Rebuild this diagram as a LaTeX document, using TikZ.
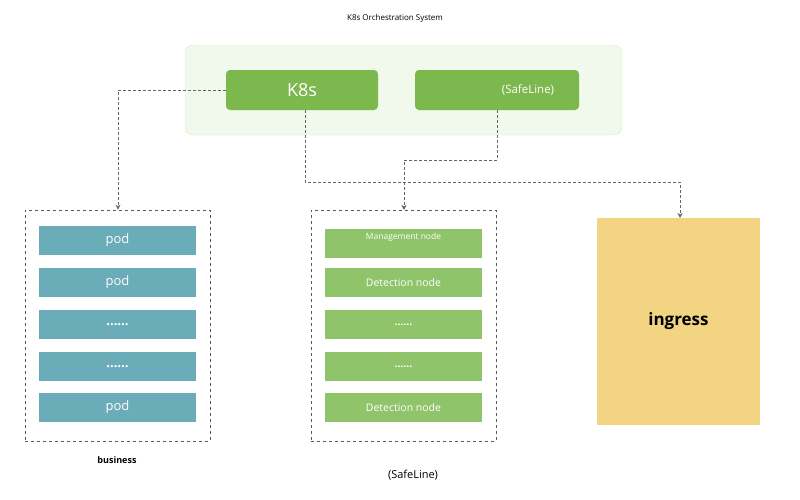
\documentclass[tikz,border=0pt]{standalone}
\usepackage{fontspec}
\setmainfont{Open Sans}
\usetikzlibrary{arrows.meta}
\definecolor{lgbg}{HTML}{F1F8EC}
\definecolor{lgbd}{HTML}{DCEBD0}
\definecolor{kg}{HTML}{7DB84E}
\definecolor{teal}{HTML}{6AACB8}
\definecolor{mg}{HTML}{8FC46A}
\definecolor{ing}{HTML}{F2D483}
\tikzset{
 conn/.style={draw=gray!80!black,densely dashed,line width=0.5pt,-{Stealth[length=5pt,width=5pt]}},
 frame/.style={draw=gray!70!black,dashed,line width=0.6pt},
 top/.style={fill=kg,rounded corners=4pt,text=white},
 pod/.style={fill=teal,text=white,font=\fontsize{13}{15}\selectfont,minimum width=157pt,minimum height=29pt,inner sep=0},
 det/.style={fill=mg,text=white,font=\fontsize{10.5}{12}\selectfont,minimum width=157pt,minimum height=29pt,inner sep=0},
}
\begin{document}
\begin{tikzpicture}[x=1pt,y=-1pt]
\useasboundingbox (0,0) rectangle (800,499);
\fill[white] (0,0) rectangle (800,499);
\node (title) at (395,18) {\fontsize{8}{10}\selectfont K8s Orchestration System};
\draw[fill=lgbg,draw=lgbd,rounded corners=8pt] (185,45) rectangle (622,135);
\node[top,minimum width=152pt,minimum height=40pt,font=\fontsize{18}{20}\selectfont] (k8s) at (302,90) {K8s};
\node[top,minimum width=164pt,minimum height=40pt,font=\fontsize{11.5}{13}\selectfont] (sl) at (497,90) {\hspace*{62pt}(SafeLine)};
\node[frame,minimum width=185pt,minimum height=231pt] (bus) at (117.5,325.5) {};
\node[frame,minimum width=185pt,minimum height=231pt] (mid) at (403.5,325.5) {};
\node[fill=ing,minimum width=163pt,minimum height=207pt,font=\fontsize{17}{19}\selectfont\bfseries] (ingress) at (678.5,321.5) {ingress};
\foreach \y/\t [count=\i] in {240.5/pod,282.5/pod,324.5/{\textbf{......}},366.5/{\textbf{......}},407.5/pod}
  \node[pod] (p\i) at (117.5,\y) {\t};
\node[det,font=\fontsize{8.5}{10}\selectfont,yshift=-3pt] (d1) at (403.5,240.5) {};
\node[font=\fontsize{8.5}{10}\selectfont,text=white] (d1t) at (403.5,237.5) {Management node};
\foreach \y/\t [count=\i from 2] in {282.5/Detection node,324.5/{\textbf{......}},366.5/{\textbf{......}},407.5/Detection node}
  \node[det] (d\i) at (403.5,\y) {\t};
\node[font=\fontsize{9}{11}\selectfont\bfseries] (bl) at (117,460) {business};
\node[font=\fontsize{11}{13}\selectfont] (sll) at (413,475) {(SafeLine)};
\coordinate (a1) at (118,90);
\draw[conn] (k8s.west) -- (a1) -- (bus.north -| a1);
\coordinate (b1) at (305,182);
\draw[conn] (k8s.south -| b1) -- (b1) -- (680,182) -- (680,218);
\coordinate (c1) at (497,160);
\draw[conn] (sl.south) -- (c1) -- (404,160) -- (404,210);
\end{tikzpicture}
\end{document}
